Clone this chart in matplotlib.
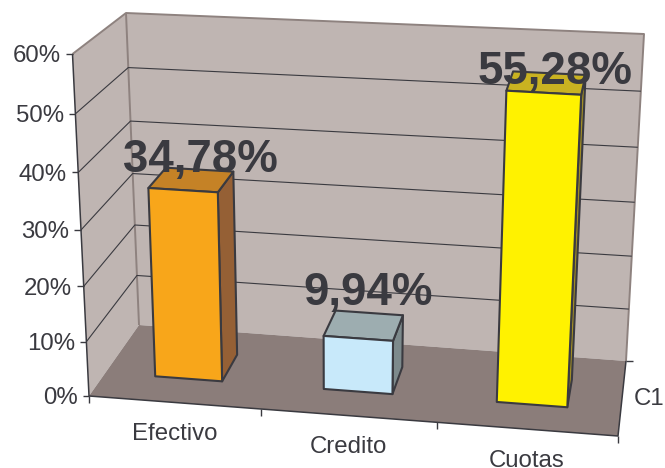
import matplotlib
matplotlib.use('Agg')
import matplotlib.pyplot as plt
import numpy as np
from matplotlib.patches import Polygon

plt.rcParams['font.family'] = ['Liberation Sans', 'DejaVu Sans']

# data
categories = ['Efectivo', 'Credito', 'Cuotas']
values = [34.78, 9.94, 55.28]
value_labels = ['34,78%', '9,94%', '55,28%']
y_ticks = [0, 10, 20, 30, 40, 50, 60]
y_tick_labels = ['0%', '10%', '20%', '30%', '40%', '50%', '60%']
series_name = 'C1'

# bar colours: front, top, side
front_cols = ['#f8a61a', '#c8e9fa', '#fff200']
top_cols = ['#c58226', '#9dadb0', '#c9b221']
side_cols = ['#956035', '#7d8a8c', '#a08d25']

ink = '#3a3a40'
wall_col = '#bfb5b2'
floor_col = '#8b7d7a'
wall_edge = '#8e827f'
y_max = 60.0

# box corners on the canvas, [x, y] indexed by (right, back, top)
corners = np.zeros((2, 2, 2, 2))
corners[0, 0, 0] = [89, 396]
corners[1, 0, 0] = [618, 436]
corners[0, 1, 0] = [139, 325]
corners[1, 1, 0] = [626, 361]
corners[0, 0, 1] = [72.5, 54]
corners[1, 0, 1] = [637, 87]
corners[0, 1, 1] = [126, 13]
corners[1, 1, 1] = [644, 34]


def persp(t, k):
    return t / (1 + k * (1 - t))


# 3d box -> canvas: u along categories, d into the depth, v in percent
def project(u, d, v):
    uu = persp(u, 0.04)
    vv = persp(v / y_max, 0.06)
    p = np.zeros(2)
    for i, wu in enumerate([1 - uu, uu]):
        for j, wd in enumerate([1 - d, d]):
            for m, wv in enumerate([1 - vv, vv]):
                p += wu * wd * wv * corners[i, j, m]
    return p


fig = plt.figure(figsize=(6.65, 4.68), dpi=100)
ax = fig.add_axes([0, 0, 1, 1])
ax.set_xlim(0, 665)
ax.set_ylim(468, 0)
ax.axis('off')


def face(pts, col, edge='none', lw=0, z=1):
    ax.add_patch(Polygon(pts, closed=True, facecolor=col, edgecolor=edge,
                         linewidth=lw, zorder=z, joinstyle='round'))


def line(pts, col=ink, lw=1.0, z=2):
    pts = np.array(pts)
    ax.plot(pts[:, 0], pts[:, 1], color=col, lw=lw, zorder=z,
            solid_capstyle='butt')


# walls and floor
face([project(0, 0, 0), project(0, 1, 0), project(0, 1, y_max), project(0, 0, y_max)], wall_col)
face([project(0, 1, 0), project(1, 1, 0), project(1, 1, y_max), project(0, 1, y_max)], wall_col)
face([project(0, 0, 0), project(1, 0, 0), project(1, 1, 0), project(0, 1, 0)], floor_col)

# wall outlines
line([project(0, 0, y_max), project(0, 1, y_max), project(1, 1, y_max), project(1, 1, 0)], wall_edge, 1.4)
line([project(0, 1, 0), project(0, 1, y_max)], wall_edge, 1.4)

# gridlines
for t in y_ticks[1:-1]:
    line([project(0, 0, t), project(0, 1, t), project(1, 1, t)], ink, 0.8)

# axes and ticks
line([project(0, 0, 0), project(0, 0, y_max)], ink, 1.1, 3)
line([project(0, 0, 0), project(1, 0, 0), project(1, 1, 0)], ink, 1.1, 3)
for t, lab in zip(y_ticks, y_tick_labels):
    x, y = project(0, 0, t)
    line([(x - 6.5, y), (x, y)], ink, 1.0, 3)
    ax.text(x - 11.5, y, lab, ha='right', va='center_baseline', fontsize=17.3, color=ink, zorder=6)
for i in range(len(categories) + 1):
    x, y = project(i / len(categories), 0, 0)
    line([(x, y), (x, y + 7)], ink, 1.0, 3)
for c, lab in enumerate(categories):
    x, y = project((c + 0.5) / len(categories), 0, 0)
    ax.text(x, y + 37.5, lab, ha='center', va='baseline', fontsize=17.3, color=ink, zorder=6)
x, y = project(1, 1, 0)
line([(x, y), (x + 7, y)], ink, 1.0, 3)
ax.text(634, 405, series_name, ha='left', va='baseline', fontsize=17.3, color=ink, zorder=6)

# bars
half_w = 0.0667
d0, d1 = 0.33, 0.70
for c, val in enumerate(values):
    u0 = (c + 0.5) / len(categories) - half_w
    u1 = (c + 0.5) / len(categories) + half_w
    z = 4 + c * 0.1
    face([project(u1, d0, 0), project(u1, d1, 0), project(u1, d1, val), project(u1, d0, val)],
         side_cols[c], ink, 1.5, z)
    face([project(u0, d0, val), project(u1, d0, val), project(u1, d1, val), project(u0, d1, val)],
         top_cols[c], ink, 1.5, z)
    face([project(u0, d0, 0), project(u1, d0, 0), project(u1, d0, val), project(u0, d0, val)],
         front_cols[c], ink, 1.5, z)

# value labels
label_xy = [(200, 172), (368, 305), (554.7, 84)]
for lab, (x, y) in zip(value_labels, label_xy):
    ax.text(x, y, lab, ha='center', va='baseline', fontsize=32.9, fontweight='bold',
            color=ink, zorder=7)

fig.savefig('out.png', dpi=100)
